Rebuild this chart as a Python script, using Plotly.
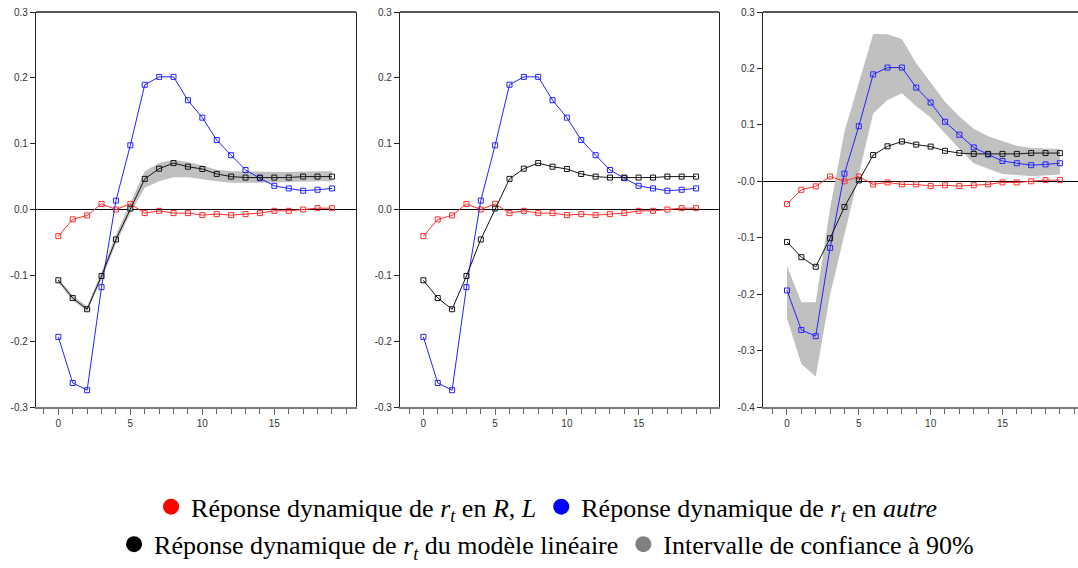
import plotly.graph_objects as go

# ---------------- data ----------------
t = list(range(20))

rep_RL = [-0.0405, -0.015, -0.009, 0.0085, 0.0, 0.0085, -0.0055, -0.002, -0.0055, -0.0055,
          -0.0085, -0.007, -0.0085, -0.007, -0.0055, -0.002, -0.002, 0.0, 0.002, 0.002]
rep_autre = [-0.1935, -0.2635, -0.2745, -0.118, 0.0135, 0.0975, 0.1895, 0.2015, 0.2015, 0.166,
             0.1395, 0.1055, 0.0825, 0.060, 0.0475, 0.036, 0.032, 0.0285, 0.030, 0.032]
rep_lin = [-0.1075, -0.1345, -0.1515, -0.101, -0.0455, 0.0015, 0.0465, 0.062, 0.0705, 0.065,
           0.0615, 0.054, 0.050, 0.0485, 0.0485, 0.0485, 0.0485, 0.050, 0.050, 0.050]

# 90% band of the linear model (left panel)
lin_hi = [-0.104, -0.131, -0.147, -0.095, -0.038, 0.010, 0.058, 0.0705, 0.0755, 0.072,
          0.067, 0.0605, 0.058, 0.058, 0.057, 0.057, 0.057, 0.058, 0.058, 0.058]
lin_lo = [-0.111, -0.138, -0.155, -0.106, -0.052, -0.006, 0.033, 0.043, 0.049, 0.049,
          0.0455, 0.043, 0.0405, 0.0405, 0.0405, 0.041, 0.041, 0.042, 0.043, 0.043]

# 90% band of the "autre" regime (right panel)
autre_hi = [-0.150, -0.2145, -0.2145, -0.048, 0.088, 0.175, 0.261, 0.2605, 0.252, 0.209,
            0.174, 0.141, 0.115, 0.093, 0.080, 0.071, 0.063, 0.059, 0.058, 0.057]
autre_lo = [-0.2425, -0.324, -0.346, -0.201, -0.094, 0.012, 0.120, 0.144, 0.156, 0.133,
            0.113, 0.086, 0.057, 0.032, 0.022, 0.013, 0.011, 0.009, 0.010, 0.012]

ytick_vals_12 = [-0.3, -0.2, -0.1, 0.0, 0.1, 0.2, 0.3]
ytick_text_12 = ["-0.3", "-0.2", "-0.1", "0.0", "0.1", "0.2", "0.3"]
ytick_vals_3 = [-0.4, -0.3, -0.2, -0.1, 0.0, 0.1, 0.2, 0.3]
ytick_text_3 = ["-0.4", "-0.3", "-0.2", "-0.1", "-0.0", "0.1", "0.2", "0.3"]
xtick_vals = [0, 5, 10, 15]

legend_names = [
    "Réponse dynamique de <i>r</i><sub><i>t</i></sub> en <i>R</i>, <i>L</i>",
    "Réponse dynamique de <i>r</i><sub><i>t</i></sub> en <i>autre</i>",
    "Réponse dynamique de <i>r</i><sub><i>t</i></sub> du modèle linéaire",
    "Intervalle de confiance à 90%",
]

# ---------------- styles ----------------
RED = "rgb(255,45,45)"
BLUE = "rgb(35,35,255)"
BLACK = "rgb(20,20,20)"
BAND = "rgb(192,192,192)"
LEG_GREY = "rgb(128,128,128)"
SERIF = "Liberation Serif"

fig = go.Figure()


def band(xa, ya, lo, hi):
    fig.add_trace(go.Scatter(
        x=t + t[::-1], y=hi + lo[::-1], fill="toself", fillcolor=BAND,
        line=dict(width=0), mode="lines", hoverinfo="skip", showlegend=False,
        xaxis=xa, yaxis=ya))


def series(xa, ya, y, color):
    fig.add_trace(go.Scatter(
        x=t, y=y, mode="lines+markers",
        line=dict(color=color, width=1),
        marker=dict(symbol="square-open", size=5, color=color, line=dict(width=1, color=color)),
        showlegend=False, xaxis=xa, yaxis=ya))


panels = [("x", "y"), ("x2", "y2"), ("x3", "y3")]
for i, (xa, ya) in enumerate(panels):
    if i == 0:
        band(xa, ya, lin_lo, lin_hi)
    if i == 2:
        band(xa, ya, autre_lo, autre_hi)
    series(xa, ya, rep_RL, RED)
    series(xa, ya, rep_autre, BLUE)
    series(xa, ya, rep_lin, BLACK)

# legend-only entries
leg_cols = ["rgb(255,0,0)", "rgb(0,0,255)", "black", LEG_GREY]
leg_ids = ["legend", "legend", "legend2", "legend2"]
for name, col, lid in zip(legend_names, leg_cols, leg_ids):
    fig.add_trace(go.Scatter(
        x=[None], y=[None], mode="markers", name=name,
        marker=dict(symbol="circle", size=20, color=col),
        legend=lid, showlegend=True, xaxis="x", yaxis="y"))

W, H = 1078, 568
TOP, BOT = 12, 412


def dom(a, b):
    return [a / W, b / W]


x_domains = [dom(36, 356), dom(400, 719), dom(763, 1078)]
x_ranges = [[-1.55, 20.67], [-1.63, 20.6], [-1.67, 20.26]]
tickfont = dict(family="Liberation Sans", size=10, color="#333333")

layout = dict(
    width=W, height=H,
    margin=dict(l=0, r=0, t=TOP, b=H - BOT),
    paper_bgcolor="white", plot_bgcolor="white",
    font=dict(family=SERIF, size=26, color="black"),
    shapes=[],
)

for i in range(3):
    sx = "" if i == 0 else str(i + 1)
    layout["xaxis" + sx] = dict(
        domain=x_domains[i], range=x_ranges[i], anchor="y" + sx,
        tickvals=xtick_vals, ticks="outside", ticklen=6, tickwidth=1.2,
        tickcolor="#666666", showline=True, linecolor="#7a7a7a", linewidth=2,
        showgrid=False, zeroline=False, tickfont=tickfont,
        minor=dict(dtick=1, tick0=0, ticks="outside", ticklen=5, tickcolor="#666666", tickwidth=1.2, showgrid=False),
    )
    if i < 2:
        yv, yt, yr = ytick_vals_12, ytick_text_12, [-0.3, 0.3]
    else:
        yv, yt, yr = ytick_vals_3, ytick_text_3, [-0.4, 0.3]
    layout["yaxis" + sx] = dict(
        domain=[0, 1], range=yr, anchor="x" + sx,
        tickvals=yv, ticktext=yt, ticks="outside", ticklen=5, tickwidth=1,
        tickcolor="#222222", showline=True, linecolor="#222222", linewidth=1.3,
        mirror=True, showgrid=False,
        zeroline=True, zerolinecolor="black", zerolinewidth=1,
        tickfont=tickfont,
    )
    layout["shapes"].append(dict(
        type="line", xref="x" + sx + " domain", yref="y" + sx + " domain",
        x0=0, x1=1, y0=1, y1=1, line=dict(color="#222222", width=1.3)))

layout["legend"] = dict(
    orientation="h", x=0.507, xanchor="center", y=(BOT - 513) / (BOT - TOP), yanchor="middle",
    font=dict(family=SERIF, size=26, color="black"), bgcolor="rgba(0,0,0,0)",
    itemsizing="trace", tracegroupgap=0,
)
layout["legend2"] = dict(
    orientation="h", x=0.507, xanchor="center", y=(BOT - 551) / (BOT - TOP), yanchor="middle",
    font=dict(family=SERIF, size=26, color="black"), bgcolor="rgba(0,0,0,0)",
    itemsizing="trace", tracegroupgap=0,
)

fig.update_layout(**layout)
fig.write_html("out.html")
